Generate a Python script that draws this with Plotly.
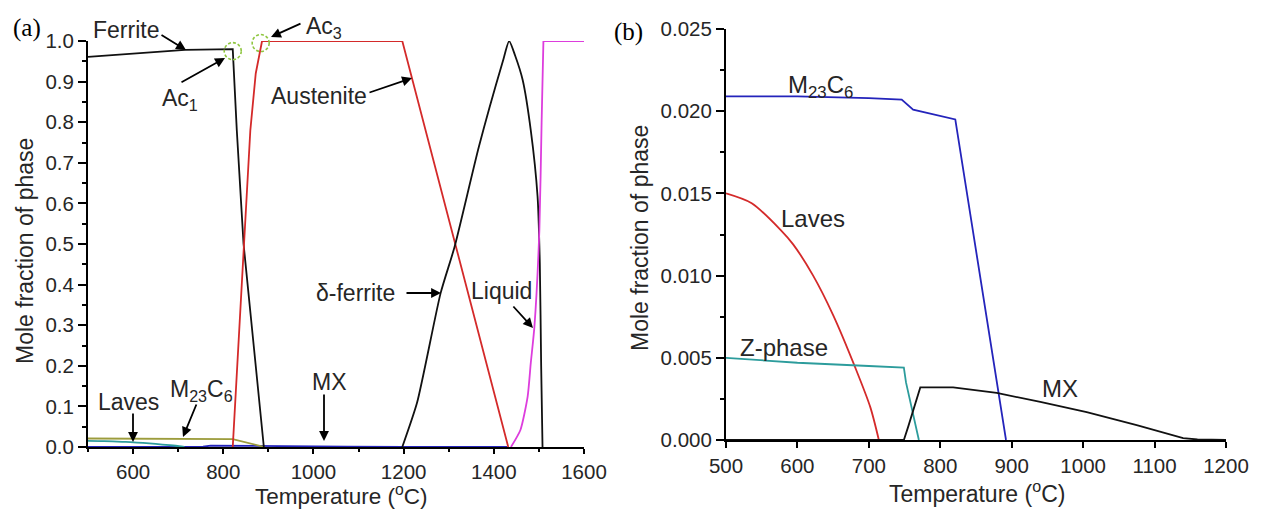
import plotly.graph_objects as go

W, H = 1267, 510

# ---------------- Panel (a) data ----------------
ferrite_T = [500, 600, 715, 821, 830, 845, 871, 890]
ferrite_f = [0.961, 0.969, 0.978, 0.980, 0.78, 0.50, 0.207, 0.0]

austenite_T = [821, 845, 860, 872, 886, 1197, 1432]
austenite_f = [0.0, 0.50, 0.78, 0.92, 1.0, 1.0, 0.0]

delta_T = [1197, 1230, 1282, 1313, 1367, 1420, 1434, 1447, 1464, 1482, 1497, 1502, 1505, 1508]
delta_f = [0.0, 0.11, 0.379, 0.493, 0.74, 0.95, 1.0, 0.965, 0.904, 0.78, 0.617, 0.453, 0.2, 0.0]

liquid_T = [1438, 1459, 1475, 1482, 1490, 1501, 1506, 1510, 1600]
liquid_f = [0.0, 0.042, 0.124, 0.207, 0.296, 0.534, 0.80, 1.0, 1.0]

# ---------------- Panel (b) data (minor phases) ----------------
m23c6_T = [500, 600, 700, 746, 762, 772, 821, 892]
m23c6_f = [0.0209, 0.0209, 0.0208, 0.0207, 0.0201, 0.0200, 0.0195, 0.0]

laves_T = [500, 536, 576, 594, 622, 650, 681, 702, 714]
laves_f = [0.0150, 0.0144, 0.0128, 0.0119, 0.0100, 0.0076, 0.0044, 0.0020, 0.0]

zphase_T = [500, 600, 700, 749, 752, 770]
zphase_f = [0.0050, 0.0047, 0.0045, 0.0044, 0.0035, 0.0]

mx_T = [500, 749, 755, 772, 818, 879, 940, 1005, 1075, 1140, 1160, 1200]
mx_f = [0.0, 0.0, 0.0008, 0.0032, 0.0032, 0.00286, 0.00232, 0.0017, 0.0009, 0.00012, 0.00003, 0.0]

mx_a_extra_T = [1430]
mx_a_extra_f = [0.0]

# colours
BLACK = "#111111"
RED = "#d42a2a"
MAGENTA = "#dd3ddd"
BLUE = "#2424bb"
OLIVE = "#9c9c3c"
TEAL = "#2c9c9c"
TXT = "#262626"
FONT = "Arial, Liberation Sans, sans-serif"

fig = go.Figure()

def line(x, y, color, xa="x", ya="y", width=1.8, shape="linear", smoothing=1.0):
    fig.add_trace(go.Scatter(x=x, y=y, mode="lines",
                             line=dict(color=color, width=width, shape=shape, smoothing=smoothing),
                             xaxis=xa, yaxis=ya, showlegend=False, hoverinfo="skip",
                             cliponaxis=False))

# panel (a)
line(mx_T + mx_a_extra_T, mx_f + mx_a_extra_f, BLUE)
line(laves_T, laves_f, TEAL, shape="spline", smoothing=0.8)
line(m23c6_T, m23c6_f, OLIVE)
line(ferrite_T, ferrite_f, BLACK)
line(austenite_T, austenite_f, RED)
line(delta_T, delta_f, BLACK, shape="spline", smoothing=0.6)
line(liquid_T[:-1], liquid_f[:-1], MAGENTA, shape="spline", smoothing=0.6)
line(liquid_T[-2:], liquid_f[-2:], MAGENTA)

# panel (b)
line(m23c6_T, m23c6_f, BLUE, "x2", "y2")
line(laves_T, laves_f, RED, "x2", "y2", shape="spline", smoothing=0.8)
line(zphase_T, zphase_f, TEAL, "x2", "y2")
line(mx_T, mx_f, BLACK, "x2", "y2")

def px(x):
    return x / W

def py(y):
    return 1 - y / H

XA_DOM = [px(88), px(584)]
YA_DOM = [py(447), py(41)]
XA_RANGE = [500, 1600]
YA_RANGE = [0, 1]

axis_common = dict(showline=True, linewidth=2, linecolor="black", ticks="outside",
                   tickwidth=2, tickcolor="black", showgrid=False,
                   zeroline=False, layer="below traces", automargin=False,
                   tickfont=dict(family=FONT, size=20.5, color=TXT))

minor_common = dict(ticks="outside", ticklen=4, tickwidth=1.5, tickcolor="black", showgrid=False)

fig.update_layout(
    width=W, height=H, margin=dict(l=0, r=0, t=0, b=0),
    paper_bgcolor="white", plot_bgcolor="white", showlegend=False,
    xaxis=dict(domain=XA_DOM, range=XA_RANGE, anchor="y", ticklen=5,
               tick0=0, dtick=200,
               minor=dict(tick0=0, dtick=100, ticks="outside", ticklen=3, tickwidth=1.5,
                          tickcolor="black", showgrid=False),
               **axis_common),
    yaxis=dict(domain=YA_DOM, range=YA_RANGE, anchor="x", ticklen=8,
               tick0=0, dtick=0.1, tickformat=".1f",
               minor=dict(tick0=0, dtick=0.05, **minor_common),
               **axis_common),
    xaxis2=dict(domain=[px(726), px(1226)], range=[500, 1200], anchor="y2", ticklen=6,
                tick0=0, dtick=100, **axis_common),
    yaxis2=dict(domain=[py(440), py(29)], range=[0, 0.025], anchor="x2", ticklen=8,
                tick0=0, dtick=0.005, tickformat=".3f",
                minor=dict(tick0=0, dtick=0.0025, **minor_common),
                **axis_common),
)

# text annotations (pixel positions converted to paper coordinates)
def text(x, y, s, size=23, family=FONT, angle=0, xanchor="center", color=TXT):
    fig.add_annotation(x=px(x), y=py(y), xref="paper", yref="paper", text=s,
                       showarrow=False, xanchor=xanchor, yanchor="middle",
                       textangle=angle, font=dict(family=family, size=size, color=color))

def arrow(hx, hy, tx, ty):
    fig.add_annotation(x=px(hx), y=py(hy), xref="paper", yref="paper", text="",
                       showarrow=True, ax=tx - hx, ay=ty - hy, arrowhead=2,
                       arrowsize=1.1, arrowwidth=1.8, arrowcolor="black")

SERIF = "Times New Roman, Liberation Serif, serif"

# panel labels
text(27, 28, "(a)", size=25, family=SERIF, color="black")
text(628, 32, "(b)", size=25, family=SERIF, color="black")

# axis titles
text(25, 251, "Mole fraction of phase", size=23, angle=-90)
text(341, 495, "Temperature (<sup>o</sup>C)", size=22.5)
text(640, 238, "Mole fraction of phase", size=23, angle=-90)
text(977, 492, "Temperature (<sup>o</sup>C)", size=23)

# panel (a) labels
text(126, 30, "Ferrite")
arrow(186, 50, 160, 34)
text(180, 100, "Ac<sub>1</sub>")
arrow(225, 58, 180, 83)
text(324, 27, "Ac<sub>3</sub>")
arrow(271, 37, 302, 23)
text(319, 96, "Austenite")
arrow(412, 78, 368, 93)
text(356, 293, "δ-ferrite")
arrow(441, 293, 405, 293)
text(501, 291, "Liquid")
arrow(533, 328, 512, 305)
text(128, 402, "Laves")
arrow(133, 442, 133, 412)
text(201, 390, "M<sub>23</sub>C<sub>6</sub>")
arrow(183, 437, 197, 403)
text(329, 382, "MX")
arrow(324, 441, 324, 393)

# panel (b) labels
text(820, 86, "M<sub>23</sub>C<sub>6</sub>", size=24)
text(813, 218, "Laves", size=24)
text(784, 347, "Z-phase", size=24)
text(1060, 388, "MX", size=24)

# dashed circles marking Ac1 and Ac3 (placed through panel (a)'s axis mapping, not clipped)
def a_to_paper(T, f):
    xp = XA_DOM[0] + (T - XA_RANGE[0]) / (XA_RANGE[1] - XA_RANGE[0]) * (XA_DOM[1] - XA_DOM[0])
    yp = YA_DOM[0] + (f - YA_RANGE[0]) / (YA_RANGE[1] - YA_RANGE[0]) * (YA_DOM[1] - YA_DOM[0])
    return xp, yp

for T, f in [(ferrite_T[3], ferrite_f[3] - 0.005), (austenite_T[4] - 3, austenite_f[4] - 0.005)]:
    cx, cy = a_to_paper(T, f)
    fig.add_shape(type="circle", xref="paper", yref="paper", xsizemode="pixel", ysizemode="pixel",
                  xanchor=cx, yanchor=cy, x0=-8.5, x1=8.5, y0=-8.5, y1=8.5, layer="above",
                  line=dict(color="#8fc640", width=1.6, dash="3px,2px"))

fig.write_html("out.html")
